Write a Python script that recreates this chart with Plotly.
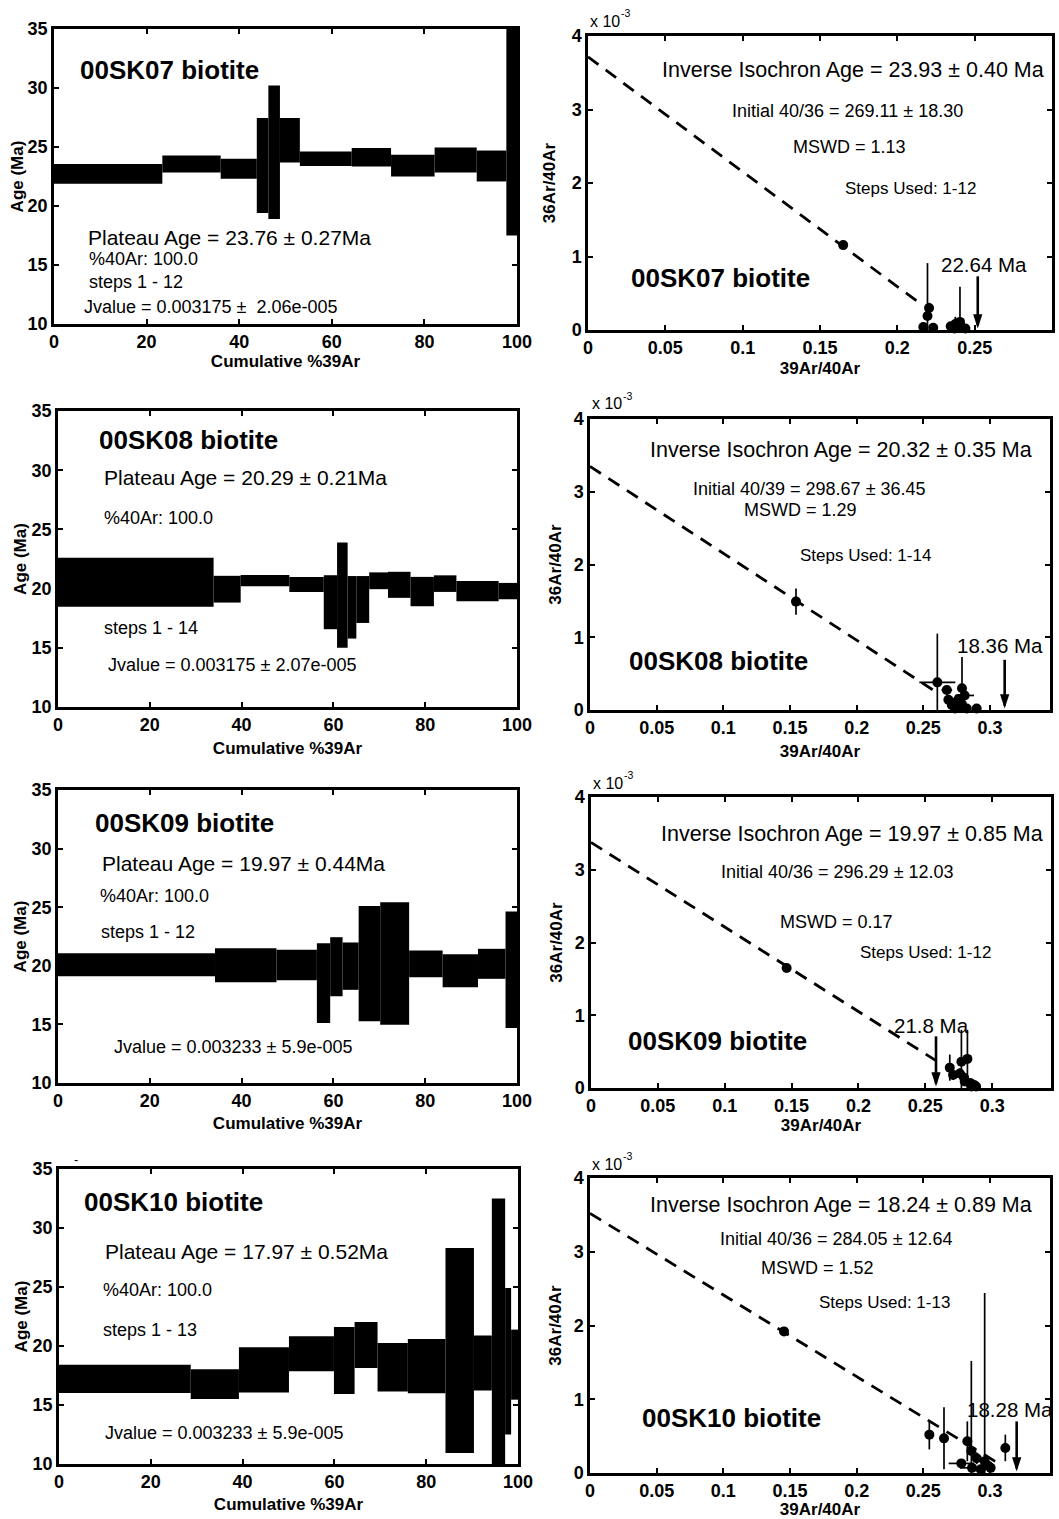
import numpy as np
import plotly.graph_objects as go

W, H = 1059, 1519
FONT = "Liberation Sans, Arial, Helvetica, sans-serif"

# ---------------------------------------------------------------------------
# Age spectra: cumulative %39Ar step boundaries, step ages (Ma) and 2-sigma errors
# ---------------------------------------------------------------------------
sk07_cum = [0, 23.4, 36.0, 43.8, 46.3, 48.8, 53.1, 64.3, 72.8, 82.2, 91.3, 97.7, 100]
sk07_age = [22.72, 23.56, 23.15, 23.43, 24.56, 25.57, 24.01, 24.13, 23.42, 23.90, 23.39, 26.50]
sk07_err = [0.84, 0.72, 0.85, 4.03, 5.66, 1.88, 0.61, 0.78, 0.92, 1.06, 1.31, 9.00]

sk08_cum = [0, 33.9, 39.8, 50.4, 57.9, 60.8, 63.1, 65.0, 67.8, 71.9, 76.8, 81.9, 86.8, 96.0, 100]
sk08_age = [20.53, 19.95, 20.67, 20.35, 18.85, 19.45, 18.42, 19.08, 20.66, 20.32, 19.75, 20.42, 19.79, 19.79]
sk08_err = [2.07, 1.13, 0.47, 0.63, 2.28, 4.45, 2.64, 1.98, 0.71, 1.10, 1.24, 0.70, 0.86, 0.69]

sk09_cum = [0, 34.2, 47.6, 56.4, 59.3, 62.0, 65.5, 70.2, 76.5, 83.8, 91.5, 97.5, 100]
sk09_age = [20.09, 20.05, 20.06, 18.52, 19.92, 19.97, 20.18, 20.20, 20.17, 19.58, 20.17, 19.66]
sk09_err = [0.99, 1.45, 1.30, 3.41, 2.52, 2.02, 4.92, 5.23, 1.14, 1.40, 1.28, 4.97]

sk10_cum = [0, 28.7, 39.2, 50.1, 59.9, 64.4, 69.4, 76.0, 84.2, 90.4, 94.3, 97.2, 98.5, 100]
sk10_age = [17.22, 16.77, 17.98, 19.34, 18.77, 20.08, 18.20, 18.30, 19.62, 18.55, 21.00, 18.71, 18.42]
sk10_err = [1.20, 1.27, 1.92, 1.49, 2.84, 1.95, 2.05, 2.30, 8.69, 2.33, 11.50, 6.21, 2.97]

# ---------------------------------------------------------------------------
# Inverse isochron data: 39Ar/40Ar, 36Ar/40Ar (x 1e-3) and errors
# ---------------------------------------------------------------------------
sk07_x39 = [0.1650, 0.2168, 0.2232, 0.2195, 0.2205, 0.2345, 0.2370, 0.2390, 0.2405, 0.2420, 0.2375, 0.2440]
sk07_y36 = [1.155, 0.040, 0.030, 0.190, 0.300, 0.050, 0.020, 0.040, 0.110, 0.030, 0.080, 0.020]
sk07_ex = [0.0015, 0.002, 0.002, 0.0015, 0.002, 0.002, 0.002, 0.002, 0.002, 0.002, 0.002, 0.002]
sk07_ey = [0.04, 0.04, 0.04, 0.72, 0.07, 0.05, 0.04, 0.05, 0.48, 0.04, 0.10, 0.04]

sk08_x39 = [0.1545, 0.2605, 0.2676, 0.2688, 0.2713, 0.2763, 0.2790, 0.2810, 0.2826, 0.2900, 0.2738, 0.2720, 0.2790, 0.2765]
sk08_y36 = [1.490, 0.380, 0.275, 0.140, 0.070, 0.045, 0.300, 0.200, 0.020, 0.020, 0.020, 0.100, 0.080, 0.150]
sk08_ex = [0.0012, 0.0135, 0.004, 0.003, 0.003, 0.002, 0.002, 0.007, 0.002, 0.002, 0.002, 0.002, 0.002, 0.002]
sk08_ey = [0.18, 0.67, 0.06, 0.06, 0.05, 0.04, 0.43, 0.06, 0.03, 0.03, 0.03, 0.05, 0.05, 0.06]

sk09_x39 = [0.1463, 0.2683, 0.2708, 0.2770, 0.2758, 0.2795, 0.2845, 0.2815, 0.2880, 0.2865, 0.2790, 0.2835]
sk09_y36 = [1.650, 0.280, 0.180, 0.360, 0.200, 0.090, 0.020, 0.400, 0.020, 0.040, 0.140, 0.070]
sk09_ex = [0.001, 0.002, 0.002, 0.003, 0.002, 0.002, 0.002, 0.002, 0.002, 0.002, 0.002, 0.002]
sk09_ey = [0.03, 0.18, 0.07, 0.44, 0.07, 0.06, 0.04, 0.40, 0.03, 0.04, 0.08, 0.05]

sk10_x39 = [0.1455, 0.2545, 0.2655, 0.2785, 0.2830, 0.2860, 0.2865, 0.2960, 0.2985, 0.2930, 0.3005, 0.3115, 0.2900]
sk10_y36 = [1.920, 0.520, 0.470, 0.130, 0.430, 0.300, 0.070, 0.160, 0.100, 0.050, 0.070, 0.340, 0.200]
sk10_ex = [0.001, 0.002, 0.002, 0.0095, 0.002, 0.002, 0.009, 0.002, 0.003, 0.002, 0.002, 0.002, 0.002]
sk10_ey = [0.04, 0.20, 0.42, 0.05, 0.27, 1.22, 0.05, 2.28, 0.05, 0.04, 0.05, 0.18, 0.08]

# ---------------------------------------------------------------------------
# Results per sample
# ---------------------------------------------------------------------------
sample_names = ["00SK07", "00SK08", "00SK09", "00SK10"]
plateau_age = [23.76, 20.29, 19.97, 17.97]
plateau_err = [0.27, 0.21, 0.44, 0.52]
pct_40ar = [100.0, 100.0, 100.0, 100.0]
plateau_steps = ["1 - 12", "1 - 14", "1 - 12", "1 - 13"]
j_value = [0.003175, 0.003175, 0.003233, 0.003233]
j_err_text = ["\u00a0 2.06e-005", " 2.07e-005", " 5.9e-005", " 5.9e-005"]

iso_age = [23.93, 20.32, 19.97, 18.24]
iso_age_err = [0.40, 0.35, 0.85, 0.89]
initial_label = ["40/36", "40/39", "40/36", "40/36"]
initial_ratio = [269.11, 298.67, 296.29, 284.05]
initial_err = [18.30, 36.45, 12.03, 12.64]
mswd = [1.13, 1.29, 0.17, 1.52]
iso_steps = ["1-12", "1-14", "1-12", "1-13"]
marked_age = ["22.64", "18.36", "21.8", "18.28"]
marked_x39 = [0.252, 0.311, 0.258, 0.320]
marked_top = [0.73, 0.69, 0.71, 0.70]
fit_line_end = [0.213, 0.259, 0.258, 0.308]

LAMBDA_40K = 5.543e-10  # total decay constant, 1/yr

spectra = [(sk07_cum, sk07_age, sk07_err), (sk08_cum, sk08_age, sk08_err),
           (sk09_cum, sk09_age, sk09_err), (sk10_cum, sk10_age, sk10_err)]
isochrons = [(sk07_x39, sk07_y36, sk07_ex, sk07_ey), (sk08_x39, sk08_y36, sk08_ex, sk08_ey),
             (sk09_x39, sk09_y36, sk09_ex, sk09_ey), (sk10_x39, sk10_y36, sk10_ex, sk10_ey)]

# ---------------------------------------------------------------------------
# Page layout (pixel boxes of each panel: x0, x1, y0, y1 from top-left)
# ---------------------------------------------------------------------------
left_box = [(54, 517, 29, 324), (58, 517, 411, 707), (58, 517, 790, 1083), (59, 518, 1169, 1464)]
right_box = [(588, 1052, 36, 330), (590, 1050, 419, 710), (591, 1051, 797, 1088), (590, 1050, 1178, 1473)]
right_xmax = [0.3, 0.345, 0.344, 0.345]
right_xticks = [[0, 0.05, 0.1, 0.15, 0.2, 0.25]] + [[0, 0.05, 0.1, 0.15, 0.2, 0.25, 0.3]] * 3

left_xtitle_standoff = [0, 8, 7, 7]
left_ytitle_standoff = [0, 1, 1, 1]
right_xtitle_standoff = [5, 8, 4, 1]
right_ytitle_standoff = [12, 8, 8, 8]

left_text_pos = {
    "name": [(78, 70), (97, 440), (93, 823), (82, 1202)],
    "plateau": [(86, 238), (102, 478), (100, 863), (103, 1251)],
    "pct": [(87, 259), (102, 518), (98, 896), (101, 1290)],
    "steps": [(87, 282), (102, 628), (99, 932), (101, 1330)],
    "j": [(82, 307), (106, 665), (112, 1047), (103, 1433)],
}
right_text_pos = {
    "iso": [(660, 70), (648, 450), (659, 834), (648, 1205)],
    "init": [(730, 111), (691, 489), (719, 872), (718, 1239)],
    "mswd": [(791, 147), (742, 510), (778, 922), (759, 1268)],
    "steps": [(843, 188), (798, 555), (858, 953), (817, 1302)],
    "name": [(629, 278), (627, 661), (626, 1041), (640, 1418)],
    "mark": [(939, 264), (955, 645), (892, 1025), (965, 1409)],
    "exp": [(588, 21), (590, 404), (591, 783), (590, 1164)],
}


def sfx(n):
    return "" if n == 1 else str(n)


def px(x, y):
    return x / W, 1 - y / H


tick_font = dict(family=FONT, size=18, color="black", weight="bold")
title_font = dict(family=FONT, size=17, color="black", weight="bold")
axis_style = dict(showline=True, linecolor="black", linewidth=2.5, mirror="ticks",
                  ticks="inside", ticklen=5, tickwidth=1.5, tickcolor="black",
                  showgrid=False, zeroline=False, tickfont=tick_font, automargin=False)

fig = go.Figure()
layout = dict(width=W, height=H, margin=dict(l=0, r=0, t=0, b=0),
              paper_bgcolor="white", plot_bgcolor="white", showlegend=False,
              font=dict(family=FONT, color="black"))
annotations = []


def text_note(x, y, text, size, bold=False):
    fx, fy = px(x, y)
    annotations.append(dict(x=fx, y=fy, xref="paper", yref="paper", text=text,
                            showarrow=False, xanchor="left", yanchor="middle",
                            font=dict(family=FONT, size=size, color="black",
                                      weight="bold" if bold else "normal")))


for i in range(4):
    nl, nr = 2 * i + 1, 2 * i + 2

    # ---------------- age spectrum ----------------
    cum, age, err = (np.array(a, dtype=float) for a in spectra[i])
    fig.add_trace(go.Bar(
        x=(cum[:-1] + cum[1:]) / 2, width=np.diff(cum), base=age - err, y=2 * err,
        marker=dict(color="black", line=dict(width=0)),
        xaxis="x" + sfx(nl), yaxis="y" + sfx(nl), hoverinfo="skip"))

    x0, x1, y0, y1 = left_box[i]
    layout["xaxis" + sfx(nl)] = dict(
        domain=[x0 / W, x1 / W], range=[0, 100], anchor="y" + sfx(nl),
        tickvals=[0, 20, 40, 60, 80, 100],
        title=dict(text="Cumulative %39Ar", font=title_font, standoff=left_xtitle_standoff[i]),
        **axis_style)
    layout["yaxis" + sfx(nl)] = dict(
        domain=[1 - y1 / H, 1 - y0 / H], range=[10, 35], anchor="x" + sfx(nl),
        tickvals=[10, 15, 20, 25, 30, 35],
        title=dict(text="Age (Ma)", font=title_font, standoff=left_ytitle_standoff[i]),
        **axis_style)

    text_note(*left_text_pos["name"][i], f"{sample_names[i]} biotite", 26, bold=True)
    text_note(*left_text_pos["plateau"][i],
              f"Plateau Age = {plateau_age[i]:.2f} ± {plateau_err[i]:.2f}Ma", 21)
    text_note(*left_text_pos["pct"][i], f"%40Ar: {pct_40ar[i]:.1f}", 18)
    text_note(*left_text_pos["steps"][i], f"steps {plateau_steps[i]}", 18)
    text_note(*left_text_pos["j"][i], f"Jvalue = {j_value[i]:.6f} ±{j_err_text[i]}", 18)

    # ---------------- inverse isochron ----------------
    xs, ys, exs, eys = isochrons[i]
    y_int = 1000.0 / initial_ratio[i]
    x_int = j_value[i] / (np.exp(LAMBDA_40K * iso_age[i] * 1e6) - 1)
    line_x = np.array([0.0, fit_line_end[i]])
    line_y = y_int * (1 - line_x / x_int)
    xa, ya = "x" + sfx(nr), "y" + sfx(nr)

    fig.add_trace(go.Scatter(x=line_x, y=line_y, mode="lines",
                             line=dict(color="black", width=2.8, dash="13px,9px"),
                             xaxis=xa, yaxis=ya, hoverinfo="skip"))
    fig.add_trace(go.Scatter(x=xs, y=ys, mode="markers",
                             marker=dict(color="black", size=1, opacity=0),
                             error_x=dict(type="data", array=exs, color="black", thickness=1.7, width=0),
                             error_y=dict(type="data", array=eys, color="black", thickness=1.7, width=0),
                             xaxis=xa, yaxis=ya, hoverinfo="skip"))
    fig.add_trace(go.Scatter(x=xs, y=ys, mode="markers", cliponaxis=False,
                             marker=dict(color="black", size=10, line=dict(width=0)),
                             xaxis=xa, yaxis=ya, hoverinfo="skip"))

    # age marker arrow: shaft plus a filled head whose tip sits near the x-axis
    fig.add_trace(go.Scatter(x=[marked_x39[i], marked_x39[i]], y=[marked_top[i], 0.06],
                             mode="lines", line=dict(color="black", width=2.6),
                             xaxis=xa, yaxis=ya, hoverinfo="skip"))
    fig.add_trace(go.Scatter(x=[marked_x39[i]], y=[0.02], mode="markers",
                             marker=dict(symbol="arrow", angle=180, size=15, color="black",
                                         line=dict(width=0)),
                             cliponaxis=False, xaxis=xa, yaxis=ya, hoverinfo="skip"))

    x0, x1, y0, y1 = right_box[i]
    layout["xaxis" + sfx(nr)] = dict(
        domain=[x0 / W, x1 / W], range=[0, right_xmax[i]], anchor=ya,
        tickvals=right_xticks[i], ticktext=[f"{v:g}" for v in right_xticks[i]],
        title=dict(text="39Ar/40Ar", font=title_font, standoff=right_xtitle_standoff[i]),
        **axis_style)
    layout["yaxis" + sfx(nr)] = dict(
        domain=[1 - y1 / H, 1 - y0 / H], range=[0, 4], anchor=xa,
        tickvals=[0, 1, 2, 3, 4],
        title=dict(text="36Ar/40Ar", font=title_font, standoff=right_ytitle_standoff[i]),
        **axis_style)

    text_note(*right_text_pos["iso"][i],
              f"Inverse Isochron Age = {iso_age[i]:.2f} ± {iso_age_err[i]:.2f} Ma", 21.5)
    text_note(*right_text_pos["init"][i],
              f"Initial {initial_label[i]} = {initial_ratio[i]:.2f} ± {initial_err[i]:.2f}", 18)
    text_note(*right_text_pos["mswd"][i], f"MSWD = {mswd[i]:.2f}", 18)
    text_note(*right_text_pos["steps"][i], f"Steps Used: {iso_steps[i]}", 17)
    text_note(*right_text_pos["name"][i], f"{sample_names[i]} biotite", 26, bold=True)
    text_note(*right_text_pos["mark"][i], f"{marked_age[i]} Ma", 20.5)

    # axis multiplier "x 10^-3" drawn as base text plus a raised exponent
    ex_x, ex_y = right_text_pos["exp"][i]
    text_note(ex_x, ex_y, "x 10", 16)
    text_note(ex_x + 31, ex_y - 8, "-3", 10.5)

# small stray mark above the last spectrum
text_note(72, 1159, "-", 13)

layout["annotations"] = annotations
fig.update_layout(**layout)
fig.write_html("out.html")
